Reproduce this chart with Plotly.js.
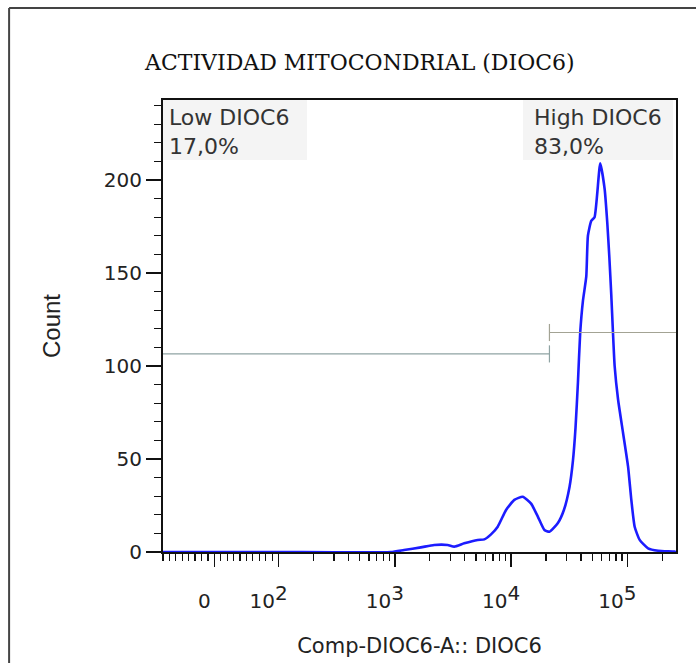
<!DOCTYPE html>
<html>
<head>
<meta charset="utf-8">
<script src="https://cdn.plot.ly/plotly-3.0.1.min.js"></script>
<style>
html,body{margin:0;padding:0;background:#fff;}
#chart{width:696px;height:663px;}
</style>
</head>
<body>
<div id="chart"></div>
<script>
// ---- data (fluorescence intensity, cell count) ----
const intensity = [-80, 0, 100, 924, 1202, 1675, 2182, 2846, 3246, 3957, 5164, 5886, 6722, 7678, 9056, 10670, 12610, 14870, 16990, 19370, 21380, 25280, 28470, 31820, 34040, 35850, 37580, 39330, 41500, 44330, 45810, 48940, 52240, 58500, 63830, 67220, 69950, 72790, 77770, 83230, 91880, 101400, 108200, 115600, 127700, 150700, 184000, 254200, 262144];
const counts    = [0, 0, 0, 0, 1.1, 2.5, 3.8, 3.8, 2.9, 4.7, 6.5, 6.8, 9.5, 13.6, 22.6, 28, 29.7, 26, 19, 11.8, 10.9, 15.6, 22.6, 35, 49, 67, 91, 118, 135, 148, 170, 178, 180, 209, 195, 177, 159, 138, 100, 82, 64, 46, 28, 13.6, 6.5, 2, 0.7, 0.2, 0];

const gateNames  = ['Low DIOC6', 'High DIOC6'];
const gatePct    = ['17,0%', '83,0%'];
const gateBounds = [[-80, 21380], [21380, 262144]];
const gateLevel  = [106.5, 118];

const xTickValues = [0, 100, 1000, 10000, 100000];
const xTickBase   = ['0', '10', '10', '10', '10'];
const xTickExp    = ['', '2', '3', '4', '5'];
const xMinorValues = [-80,-70,-60,-50,-40,-30,-20,-10,10,20,30,40,50,60,70,80,90,
  200,300,400,500,600,700,800,900,2000,3000,4000,5000,6000,7000,8000,9000,
  20000,30000,40000,50000,60000,70000,80000,90000,200000];
const yTickValues = [0, 50, 100, 150, 200];
const yMinorValues = [10,20,30,40,60,70,80,90,110,120,130,140,160,170,180,190,210,220,230,240];

const xMin = -80, xMax = 262144, yMax = 243;

// biexponential-like display scale: log above 100, linear around zero
const LIN_SLOPE = 0.00552;
function T(v){ return v >= 100 ? Math.log10(v) : 2 - (100 - v) * LIN_SLOPE; }

const xTickText = xTickBase.map((b, i) => xTickExp[i]
  ? b + '<sup><span style="font-size:20px">' + xTickExp[i] + '</span></sup>'
  : b);

const curve = {
  x: intensity.map(T), y: counts, type: 'scatter', mode: 'lines',
  line: {color: '#1c1cff', width: 2.6, shape: 'spline', smoothing: 0.5},
  hoverinfo: 'skip'
};

const gateColors = ['#8fa3a3', '#a3a394'];
const tickHalf = 4.6;
const gateTraces = gateBounds.map((b, i) => {
  const edge = i === 0 ? b[1] : b[0];
  return {
    x: [T(b[0]), T(b[1]), null, T(edge), T(edge)],
    y: [gateLevel[i], gateLevel[i], null, gateLevel[i] - tickHalf, gateLevel[i] + tickHalf],
    type: 'scatter', mode: 'lines',
    line: {color: gateColors[i], width: 1.2},
    hoverinfo: 'skip'
  };
});

const sans = 'DejaVu Sans, Liberation Sans, sans-serif';

const layout = {
  width: 696, height: 663,
  margin: {l: 163, r: 20, t: 100, b: 111},
  paper_bgcolor: '#ffffff', plot_bgcolor: '#ffffff',
  showlegend: false,
  font: {family: sans, size: 20, color: '#222'},
  title: {
    text: 'ACTIVIDAD MITOCONDRIAL (DIOC6)',
    font: {family: 'DejaVu Serif, Liberation Serif, serif', size: 22, color: '#111'},
    xref: 'container', yref: 'container', x: 0.517, xanchor: 'center', y: 1 - 62/663, yanchor: 'middle'
  },
  xaxis: {
    type: 'linear', range: [T(xMin), T(xMax)],
    tickmode: 'array', tickvals: xTickValues.map(T), ticktext: xTickText,
    ticks: 'outside', ticklen: 13, tickwidth: 1.5, tickcolor: '#111',
    ticklabelstandoff: 17, ticklabelshift: -10,
    minor: {tickmode: 'array', tickvals: xMinorValues.map(T), ticks: 'outside', ticklen: 7, tickwidth: 1.2, tickcolor: '#111', showgrid: false},
    showgrid: false, zeroline: false,
    showline: true, linecolor: '#111', linewidth: 2, mirror: true,
    tickfont: {family: sans, size: 20, color: '#222'},
    title: {text: 'Comp-DIOC6-A:: DIOC6', font: {family: sans, size: 21, color: '#222'}, standoff: 26},
    fixedrange: true
  },
  yaxis: {
    range: [0, yMax],
    tickmode: 'array', tickvals: yTickValues,
    ticks: 'outside', ticklen: 15, tickwidth: 1.5, tickcolor: '#111',
    minor: {tickmode: 'array', tickvals: yMinorValues, ticks: 'outside', ticklen: 7, tickwidth: 1.2, tickcolor: '#111', showgrid: false},
    showgrid: false, zeroline: false,
    showline: true, linecolor: '#111', linewidth: 2, mirror: true,
    tickfont: {family: sans, size: 20, color: '#222'},
    title: {text: 'Count', font: {family: 'Liberation Sans Narrow, Liberation Sans, sans-serif', size: 24, color: '#222'}, standoff: 36},
    fixedrange: true
  },
  shapes: [
    // gate label backgrounds
    {type: 'rect', xref: 'paper', yref: 'paper', x0: 0, x1: 0.2807, y0: 0.867, y1: 1, fillcolor: '#f4f4f4', line: {width: 0}, layer: 'below'},
    {type: 'rect', xref: 'paper', yref: 'paper', x0: 0.7018, x1: 0.994, y0: 0.867, y1: 1, fillcolor: '#f4f4f4', line: {width: 0}, layer: 'below'},
    // outer frame
    {type: 'line', xref: 'paper', yref: 'paper', x0: -0.3, x1: -0.3, y0: -0.4, y1: 1.2035, line: {color: '#444', width: 2}},
    {type: 'line', xref: 'paper', yref: 'paper', x0: -0.3, x1: 1.2, y0: 1.2035, y1: 1.2035, line: {color: '#444', width: 2}}
  ],
  annotations: [
    {xref: 'paper', yref: 'paper', x: 4/513, y: 1, xanchor: 'left', yanchor: 'top', yshift: -3, align: 'left',
     text: gateNames[0] + '<br>' + gatePct[0], showarrow: false, font: {family: sans, size: 22, color: '#333'}},
    {xref: 'paper', yref: 'paper', x: 369/513, y: 1, xanchor: 'left', yanchor: 'top', yshift: -3, align: 'left',
     text: gateNames[1] + '<br>' + gatePct[1], showarrow: false, font: {family: sans, size: 22, color: '#333'}}
  ]
};

Plotly.newPlot('chart', [curve].concat(gateTraces), layout, {displayModeBar: false, staticPlot: true});
</script>
</body>
</html>
